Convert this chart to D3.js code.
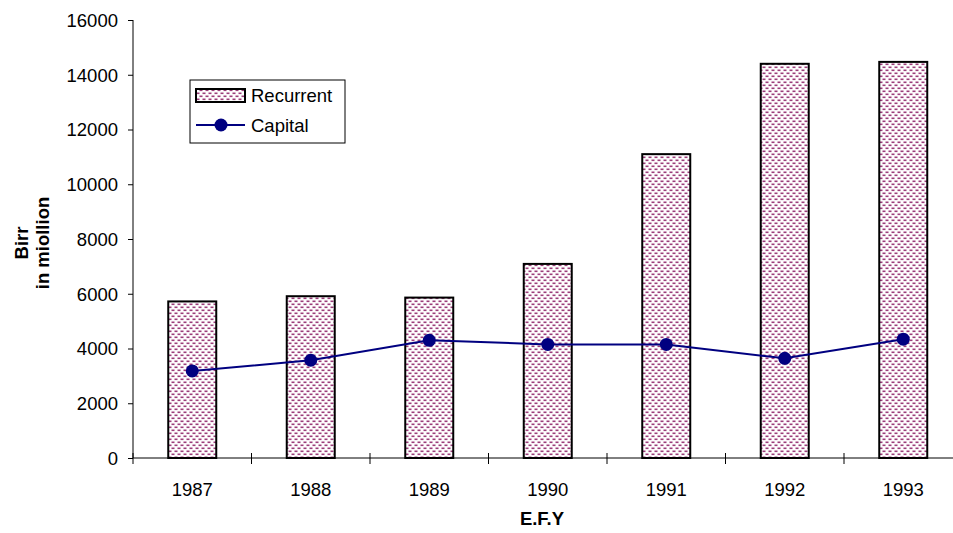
<!DOCTYPE html>
<html>
<head>
<meta charset="utf-8">
<script src="https://cdn.jsdelivr.net/npm/d3@7"></script>
<style>
  body { margin: 0; background: #fff; }
  svg text { font-family: "Liberation Sans", Arial, sans-serif; fill: #000; }
</style>
</head>
<body>
<div id="chart"></div>
<script>
// chart data
var years = ["1987", "1988", "1989", "1990", "1991", "1992", "1993"];
var recurrent = [5720, 5910, 5860, 7090, 11100, 14400, 14470];
var capital = [3180, 3570, 4300, 4150, 4150, 3640, 4340];
var yTicks = [0, 2000, 4000, 6000, 8000, 10000, 12000, 14000, 16000];

var W = 953, H = 533;
var margin = {top: 20, left: 133, bottom: 75};
var plotH = H - margin.top - margin.bottom; // 438
var bandW = 118.5;
var fs = "18.5px";

var svg = d3.select("#chart").append("svg")
  .attr("width", W).attr("height", H);

// dotted fill like the excel pattern
var defs = svg.append("defs");
var pat = defs.append("pattern")
  .attr("id", "dots")
  .attr("patternUnits", "userSpaceOnUse")
  .attr("width", 6).attr("height", 6);
pat.append("rect").attr("width", 6).attr("height", 6).attr("fill", "#fff");
pat.append("rect").attr("x", 0.5).attr("y", 0.5).attr("width", 3).attr("height", 1.6).attr("fill", "#9b3d7a");
pat.append("rect").attr("x", 3.5).attr("y", 3.5).attr("width", 3).attr("height", 1.6).attr("fill", "#9b3d7a");
pat.append("rect").attr("x", -2.5).attr("y", 3.5).attr("width", 3).attr("height", 1.6).attr("fill", "#9b3d7a");

var x = d3.scaleBand()
  .domain(years)
  .range([margin.left, margin.left + bandW * years.length])
  .paddingInner(0).paddingOuter(0);

var y = d3.scaleLinear()
  .domain([0, 16000])
  .range([margin.top + plotH, margin.top]);

var barW = 48;

// bars
svg.selectAll(".bar")
  .data(years)
  .enter().append("rect")
  .attr("class", "bar")
  .attr("x", function(d) { return x(d) + x.bandwidth() / 2 - barW / 2; })
  .attr("y", function(d, i) { return y(recurrent[i]); })
  .attr("width", barW)
  .attr("height", function(d, i) { return y(0) - y(recurrent[i]); })
  .attr("fill", "url(#dots)")
  .attr("stroke", "#000")
  .attr("stroke-width", 2);

// y axis
var yAxis = svg.append("g")
  .attr("transform", "translate(" + margin.left + ",0)")
  .call(d3.axisLeft(y).tickValues(yTicks).tickSize(5).tickPadding(10).tickFormat(d3.format("d")));
yAxis.selectAll("text").style("font-size", fs).attr("dy", "0.35em");
yAxis.selectAll("line, path").attr("stroke", "#000");
yAxis.select(".domain").attr("d", "M0," + y(16000) + "V" + y(0));

// x axis with ticks at band boundaries
var xg = svg.append("g")
  .attr("transform", "translate(0," + y(0) + ")");
xg.append("line")
  .attr("x1", margin.left).attr("x2", W)
  .attr("stroke", "#000");
xg.selectAll(".xtick")
  .data(years)
  .enter().append("line")
  .attr("x1", function(d) { return x(d); })
  .attr("x2", function(d) { return x(d); })
  .attr("y1", -5).attr("y2", 6)
  .attr("stroke", "#000");
xg.selectAll(".xlabel")
  .data(years)
  .enter().append("text")
  .attr("x", function(d) { return x(d) + x.bandwidth() / 2; })
  .attr("y", 38)
  .attr("text-anchor", "middle")
  .style("font-size", fs)
  .text(function(d) { return d; });

// capital line
var line = d3.line()
  .x(function(d, i) { return x(years[i]) + x.bandwidth() / 2; })
  .y(function(d) { return y(d); });

svg.append("path")
  .datum(capital)
  .attr("d", line)
  .attr("fill", "none")
  .attr("stroke", "#000080")
  .attr("stroke-width", 2);

svg.selectAll(".pt")
  .data(capital)
  .enter().append("circle")
  .attr("cx", function(d, i) { return x(years[i]) + x.bandwidth() / 2; })
  .attr("cy", function(d) { return y(d); })
  .attr("r", 6.5)
  .attr("fill", "#000080");

// axis titles
svg.append("text")
  .attr("transform", "translate(28,243) rotate(-90)")
  .attr("text-anchor", "middle")
  .style("font-size", fs).style("font-weight", "bold")
  .text("Birr");
svg.append("text")
  .attr("transform", "translate(49,243) rotate(-90)")
  .attr("text-anchor", "middle")
  .style("font-size", fs).style("font-weight", "bold")
  .text("in miollion");
svg.append("text")
  .attr("x", 542).attr("y", 525)
  .attr("text-anchor", "middle")
  .style("font-size", fs).style("font-weight", "bold")
  .text("E.F.Y");

// legend
var lg = svg.append("g").attr("transform", "translate(190,80)");
lg.append("rect")
  .attr("width", 155).attr("height", 63)
  .attr("fill", "#fff").attr("stroke", "#000").attr("stroke-width", 1);
lg.append("rect")
  .attr("x", 6).attr("y", 9).attr("width", 49).attr("height", 13)
  .attr("fill", "url(#dots)").attr("stroke", "#000").attr("stroke-width", 2);
lg.append("text")
  .attr("x", 61).attr("y", 22)
  .style("font-size", fs).text("Recurrent");
lg.append("line")
  .attr("x1", 6).attr("x2", 55).attr("y1", 45).attr("y2", 45)
  .attr("stroke", "#000080").attr("stroke-width", 2);
lg.append("circle")
  .attr("cx", 31).attr("cy", 45).attr("r", 6.5).attr("fill", "#000080");
lg.append("text")
  .attr("x", 61).attr("y", 52)
  .style("font-size", fs).text("Capital");
</script>
</body>
</html>
